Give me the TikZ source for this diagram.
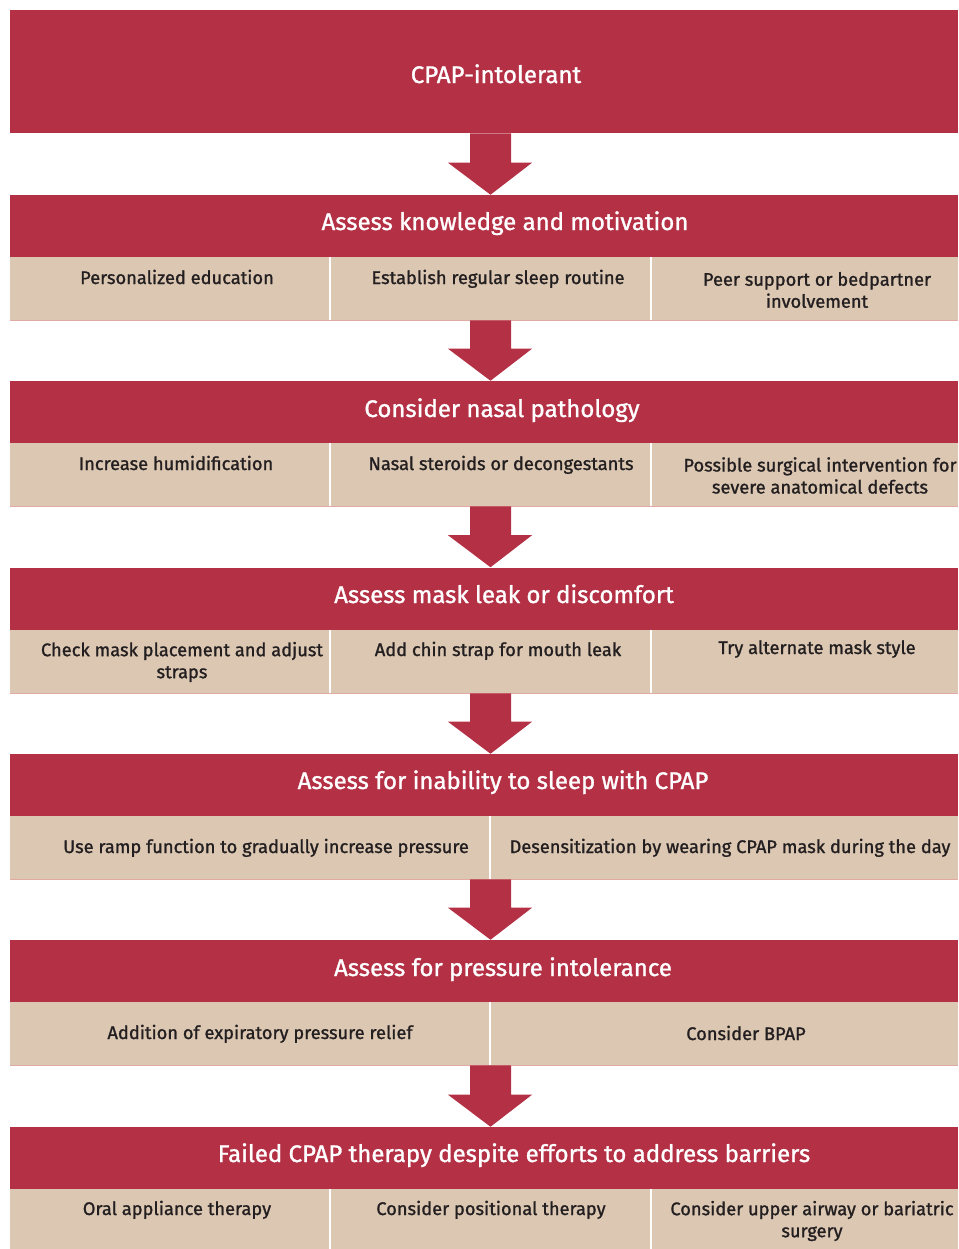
\documentclass[tikz,border=0pt]{standalone}
\usepackage{fontspec}
\setmainfont{Fira Sans}
\newfontfamily\medfont{Fira Sans}[FakeBold=1.2]
\usetikzlibrary{calc}
\definecolor{hdrred}{RGB}{179,48,69}
\definecolor{beige}{RGB}{219,199,178}
\definecolor{ink}{RGB}{35,31,32}
\definecolor{edgepink}{RGB}{226,170,165}
\newcommand{\blockarrow}[2]{\fill[hdrred] ($(#1.south)+(-14,0)$) -- ($(#1.south)+(27,0)$) -- ($(#2.north)+(27,-32)$) -- ($(#2.north)+(48,-32)$) -- ($(#2.north)+(6.5,0)$) -- ($(#2.north)+(-36,-32)$) -- ($(#2.north)+(-14,-32)$) -- cycle;}
\begin{document}
\begin{tikzpicture}[x=0.75pt,y=-0.75pt,
  hdr/.style={fill=hdrred, draw=none, inner sep=0pt, minimum width=711pt, minimum height=46.5pt},
  subrow/.style={fill=beige, draw=none, inner sep=0pt, minimum width=711pt, minimum height=47.25pt},
  htext/.style={text=white, inner sep=0pt, anchor=base, font=\medfont\fontsize{18}{21}\selectfont},
  ctext/.style={text=ink, inner sep=0pt, anchor=base, align=center, font=\medfont\fontsize{13.7}{16.5}\selectfont},
  mtext/.style={ctext, anchor=center},
  divider/.style={white, line width=1.5pt},
  edgeline/.style={edgepink, line width=0.75pt}]
\useasboundingbox (0,0) rectangle (958,1249);

% boxes
\node[hdr, minimum height=92.25pt] (h1) at (484,71.5) {};
\node[hdr] (h2) at (484,226) {};
\node[subrow] (s2) at (484,288.5) {};
\node[hdr] (h3) at (484,412) {};
\node[subrow] (s3) at (484,474.5) {};
\node[hdr] (h4) at (484,598.5) {};
\node[subrow] (s4) at (484,661.5) {};
\node[hdr] (h5) at (484,785) {};
\node[subrow] (s5) at (484,847.5) {};
\node[hdr] (h6) at (484,971) {};
\node[subrow] (s6) at (484,1033.5) {};
\node[hdr] (h7) at (484,1158) {};
\node[subrow, minimum height=45pt] (s7) at (484,1219) {};

% edge lines
\foreach \r in {s2,s3,s4,s5,s6}{\draw[edgeline] (\r.south west) -- (\r.south east);}

% dividers
\draw[divider] (330,257) -- (330,320);
\draw[divider] (651,257) -- (651,320);
\draw[divider] (330,443) -- (330,506);
\draw[divider] (651,443) -- (651,506);
\draw[divider] (330,630) -- (330,693);
\draw[divider] (651,630) -- (651,693);
\draw[divider] (490,816) -- (490,879);
\draw[divider] (490,1002) -- (490,1065);
\draw[divider] (330,1189) -- (330,1249);
\draw[divider] (651,1189) -- (651,1249);

% arrows
\blockarrow{h1}{h2}
\blockarrow{s2}{h3}
\blockarrow{s3}{h4}
\blockarrow{s4}{h5}
\blockarrow{s5}{h6}
\blockarrow{s6}{h7}

% header texts
\node[htext] (th1) at (496,83) {CPAP-intolerant};
\node[htext] (th2) at (505,230) {Assess knowledge and motivation};
\node[htext] (th3) at (502,417) {Consider nasal pathology};
\node[htext] (th4) at (504,603) {Assess mask leak or discomfort};
\node[htext] (th5) at (503,789) {Assess for inability to sleep with CPAP};
\node[htext] (th6) at (503,976) {Assess for pressure intolerance};
\node[htext] (th7) at (514,1162) {Failed CPAP therapy despite efforts to address barriers};

% cell texts
\node[ctext] (t21) at (177,284) {Personalized education};
\node[ctext] (t22) at (498,284) {Establish regular sleep routine};
\node[mtext] (t23) at (817,290) {Peer support or bedpartner\\involvement};

\node[ctext] (t31) at (176,470) {Increase humidification};
\node[ctext] (t32) at (501,470) {Nasal steroids or decongestants};
\node[mtext] (t33) at (820,475.5) {Possible surgical intervention for\\severe anatomical defects};

\node[mtext] (t41) at (182,662) {Check mask placement and adjust\\straps};
\node[ctext] (t42) at (498,656) {Add chin strap for mouth leak};
\node[ctext] (t43) at (817,654) {Try alternate mask style};

\node[ctext] (t51) at (266,853) {Use ramp function to gradually increase pressure};
\node[ctext] (t52) at (730,853) {Desensitization by wearing CPAP mask during the day};

\node[ctext] (t61) at (260,1039) {Addition of expiratory pressure relief};
\node[ctext] (t62) at (746,1040) {Consider BPAP};

\node[ctext] (t71) at (177,1215) {Oral appliance therapy};
\node[ctext] (t72) at (491,1215) {Consider positional therapy};
\node[mtext] (t73) at (812,1221) {Consider upper airway or bariatric\\surgery};
\end{tikzpicture}
\end{document}
